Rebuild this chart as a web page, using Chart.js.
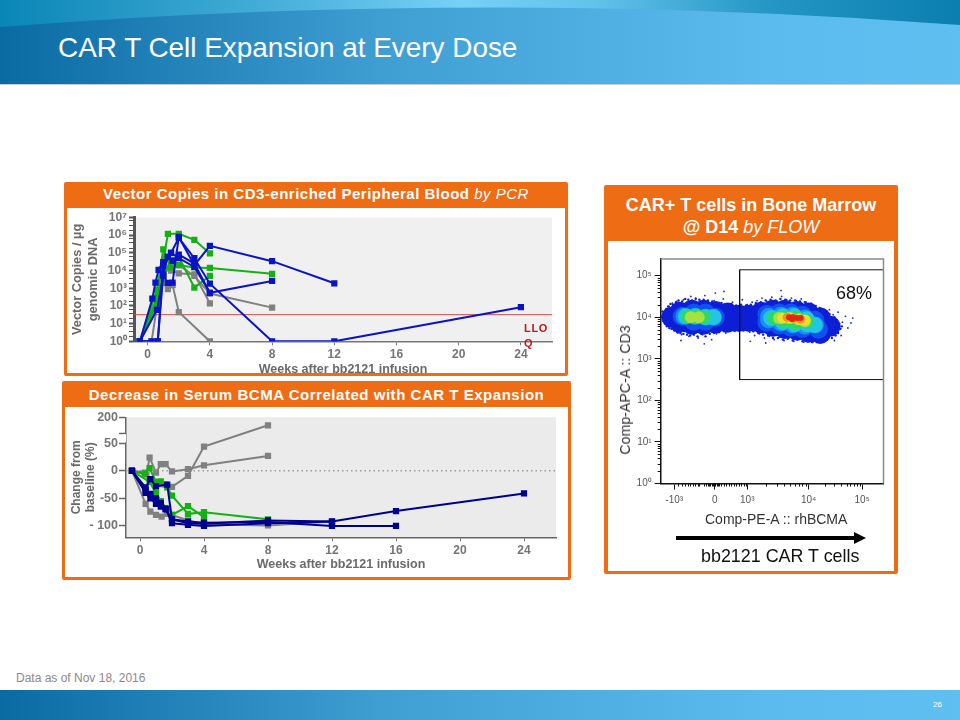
<!DOCTYPE html>
<html>
<head>
<meta charset="utf-8">
<title>CAR T Cell Expansion at Every Dose</title>
<script src="https://cdn.jsdelivr.net/npm/chart.js@4"></script>
<style>
html, body { margin: 0; padding: 0; background: #fff; }
body { position: relative; width: 960px; height: 720px; overflow: hidden; font-family: "Liberation Sans", Arial, sans-serif; }
.abs { position: absolute; }
canvas { position: absolute; }
.panel { position: absolute; background: #fff; border-style: solid; border-color: #ee6c14; border-radius: 2px; box-sizing: border-box; }
.head { position: absolute; color: #fff; font-weight: bold; text-align: center; white-space: nowrap; }
.head i { font-weight: normal; }
</style>
</head>
<body>
<svg class="abs" style="left:0;top:0" width="960" height="86">
  <defs>
    <linearGradient id="bar" x1="0" x2="1" y1="0" y2="0">
      <stop offset="0" stop-color="#0a6ba3"/><stop offset="0.4" stop-color="#3f9fd3"/><stop offset="0.8" stop-color="#5cbbee"/><stop offset="1" stop-color="#60bff1"/>
    </linearGradient>
    <linearGradient id="strip" x1="0" x2="1" y1="0" y2="0">
      <stop offset="0" stop-color="#0a86b6"/><stop offset="0.25" stop-color="#3ea9d4"/><stop offset="0.48" stop-color="#78d0f6"/><stop offset="0.62" stop-color="#62c2ea"/><stop offset="0.8" stop-color="#2596c5"/><stop offset="1" stop-color="#0a7fb0"/>
    </linearGradient>
  </defs>
  <rect width="960" height="30" fill="url(#strip)"/>
  <path d="M0,27 Q480,-11 960,25 L960,84 L0,84 Z" fill="url(#bar)"/>
  <rect y="84" width="960" height="1" fill="#c8ccd0"/>
</svg>
<div class="abs" style="left:58px;top:32px;font-size:27.9px;color:#fff;white-space:nowrap">CAR T Cell Expansion at Every Dose</div>

<div class="panel" style="left:64px;top:182px;width:504px;height:194px;border-width:26px 3px 3px 3px"></div>
<div class="head" style="left:64px;top:184px;width:504px;font-size:15px;line-height:20px;letter-spacing:0.5px">Vector Copies in CD3-enriched Peripheral Blood <i>by PCR</i></div>

<div class="panel" style="left:62px;top:381px;width:509px;height:199px;border-width:26px 3px 3px 3px"></div>
<div class="head" style="left:62px;top:385px;width:509px;font-size:15px;line-height:20px;letter-spacing:0.53px">Decrease in Serum BCMA Correlated with CAR T Expansion</div>

<div class="panel" style="left:604px;top:185px;width:294px;height:389px;border-width:56px 4px 3px 4px"></div>
<div class="head" style="left:604px;top:194px;width:294px;font-size:18px;line-height:22px">CAR+ T cells in Bone Marrow<br>@ D14 <i>by FLOW</i></div>

<canvas id="pcrChart" style="left:67px;top:207px" width="498" height="170"></canvas>
<canvas id="bcmaChart" style="left:66px;top:407px" width="502" height="170"></canvas>
<canvas id="flowChart" style="left:608px;top:241px" width="286" height="330"></canvas>

<div class="abs" style="left:524px;top:321px;width:26px;font-size:11px;line-height:15px;font-weight:bold;color:#c01818;letter-spacing:0.7px;word-break:break-all">LLOQ</div>
<div class="abs" style="left:836px;top:283px;font-size:18px;color:#111">68%</div>
<div class="abs" style="left:625px;top:390px;font-size:14.2px;color:#333;white-space:nowrap;transform:translate(-50%,-50%) rotate(-90deg)">Comp-APC-A :: CD3</div>
<div class="abs" style="left:705px;top:511px;font-size:14px;color:#333;white-space:nowrap">Comp-PE-A :: rhBCMA</div>
<svg class="abs" style="left:670px;top:528px" width="200" height="20">
  <rect x="6" y="8" width="180" height="4" fill="#000"/>
  <path d="M184,4 L196,10 L184,16 Z" fill="#000"/>
</svg>
<div class="abs" style="left:701px;top:546px;font-size:17.9px;color:#111;white-space:nowrap">bb2121 CAR T cells</div>

<div class="abs" style="left:16px;top:671px;font-size:12px;color:#8a8a8a">Data as of Nov 18, 2016</div>
<div class="abs" style="left:0;top:690px;width:960px;height:30px;background:linear-gradient(90deg,#0a6ba3 0%,#3f9fd3 40%,#5cbbee 80%,#60bff1 100%)"></div>
<div class="abs" style="left:933px;top:700px;font-size:8px;color:#fff">26</div>

<script>
///////////////////colours
const BLUE_PCR = '#0a14c4';
const BLUE_BCMA = '#00008e';
const GREEN = '#14b014';
const GREY = '#808080';

///////////////////PCR data - weeks and vector copies per ug
const pcrBlue1Weeks = [-0.5, 0.3, 0.5, 0.7, 1, 1.3, 1.5, 2, 3, 4, 8, 12, 24];
const pcrBlue1Copies = [1, 260, 2100, 11000, 30000, 60000, 100000, 700000, 50000, 1800, 1, 1, 85];
const pcrBlue2Weeks = [-0.5, 0.6, 1, 1.3, 1.6, 2, 3, 4, 8, 12];
const pcrBlue2Copies = [1, 60, 5000, 2000, 2100, 800000, 20000, 250000, 34000, 1900];
const pcrBlue3Weeks = [-0.5, 0.25, 0.65, 1, 1.3, 1.6, 2, 3, 4, 8];
const pcrBlue3Copies = [1, 1, 1, 6000, 60000, 35000, 80000, 25000, 550, 2600];
const pcrBlue4Weeks = [-0.5, 0.65, 1, 1.5, 2, 3, 4];
const pcrBlue4Copies = [1, 1, 20000, 100000, 50000, 16000, 550];

const pcrGreen1Weeks = [-0.5, 0.6, 1.3, 2, 3, 4];
const pcrGreen1Copies = [1, 300, 1200000, 1200000, 550000, 93000];
const pcrGreen2Weeks = [-0.5, 0.6, 1, 1.5, 2, 3, 4, 8];
const pcrGreen2Copies = [1, 800, 160000, 15000, 20000, 15000, 14000, 6500];
const pcrGreen3Weeks = [-0.5, 0.65, 1, 1.5, 2, 3, 4];
const pcrGreen3Copies = [1, 200, 5000, 40000, 60000, 1100, 5000];

const pcrGrey1Weeks = [-0.5, 0.25, 0.6, 1, 1.3, 1.6, 2, 4];
const pcrGrey1Copies = [1, 1, 100, 2000, 900, 1500, 45, 1];
const pcrGrey2Weeks = [-0.5, 0.65, 1, 1.5, 2, 3, 4];
const pcrGrey2Copies = [1, 100, 10000, 10000, 7000, 6000, 140];
const pcrGrey3Weeks = [-0.5, 0.65, 1, 1.5, 2, 3, 4, 8];
const pcrGrey3Copies = [1, 300, 5000, 30000, 20000, 5000, 500, 80];

const pcrLloq = 32;
const pcrWeekTicks = [0, 4, 8, 12, 16, 20, 24];
const pcrCopyTicks = [1, 10, 100, 1000, 10000, 100000, 1000000, 10000000];
const pcrCopyLabels = ['10⁰', '10¹', '10²', '10³', '10⁴', '10⁵', '10⁶', '10⁷'];

///////////////////BCMA data - weeks and change from baseline (%)
const bcmaBlue1Weeks = [-0.5, 0.35, 0.65, 1, 1.7, 2, 3, 4, 8, 12, 16, 24];
const bcmaBlue1Change = [0, -30, -15, -28, -25, -88, -95, -96, -90, -92, -73, -41];
const bcmaBlue2Weeks = [-0.5, 0.35, 0.65, 1, 1.3, 1.6, 2, 3, 4, 8, 12];
const bcmaBlue2Change = [0, -35, -42, -50, -58, -68, -95, -98, -100, -95, -92];
const bcmaBlue3Weeks = [-0.5, 0.35, 0.65, 1, 1.3, 1.6, 2, 3, 4, 8, 12, 16];
const bcmaBlue3Change = [0, -40, -50, -60, -65, -70, -88, -92, -94, -93, -100, -100];

const bcmaGreen1Weeks = [-0.5, 0.3, 0.6, 1, 1.3, 1.7, 2, 3, 4, 8];
const bcmaGreen1Change = [0, -5, 5, -20, -19, -30, -45, -78, -75, -88];
const bcmaGreen2Weeks = [-0.5, 0.6, 1, 1.3, 1.7, 2, 3, 4];
const bcmaGreen2Change = [0, -20, -40, -55, -70, -80, -64, -84];

const bcmaGrey1Weeks = [-0.5, 0.4, 0.6, 1, 1.3, 1.6, 2, 3, 4, 8];
const bcmaGrey1Change = [0, -7, 24, -3, 12, 12, -1, 3, 10, 27];
const bcmaGrey2Weeks = [-0.5, 0.3, 0.6, 1, 1.3, 1.6, 2, 3, 4, 8];
const bcmaGrey2Change = [0, -3, -15, -20, -24, -25, -29, -9, 44, 132];
const bcmaGrey3Weeks = [-0.5, 0.35, 0.65, 1, 1.35, 1.7, 2, 3, 4, 8, 12];
const bcmaGrey3Change = [0, -60, -74, -80, -83, -78, -80, -90, -97, -99, -92];

const bcmaWeekTicks = [0, 4, 8, 12, 16, 20, 24];
const bcmaChangeTicks = [-100, -50, 0, 50, 60, 200];
const bcmaChangeLabels = ['- 100', '-50', '0', '50', '', '200'];

///////////////////flow data - both axes are in decades of the display scale
const flowDeepBlue = [[1.77,4.00],[1.90,4.12],[1.90,3.88],[2.10,4.17],[2.10,3.83],[2.29,4.17],[2.29,3.83],[2.48,4.14],[2.48,3.86],[2.68,4.10],[2.68,3.88],[2.87,4.05],[2.87,3.90],[3.03,4.05],[3.03,3.90],[3.23,4.12],[3.23,3.86],[3.42,4.17],[3.42,3.78],[3.61,4.17],[3.61,3.73],[3.81,4.14],[3.81,3.69],[4.00,4.10],[4.00,3.64],[4.19,3.98],[4.19,3.61],[4.35,3.78]];
const flowMidBlue = [[1.94,4.02],[2.13,4.10],[2.13,3.90],[2.32,4.10],[2.32,3.90],[2.48,4.00],[3.32,4.07],[3.32,3.88],[3.52,4.10],[3.52,3.81],[3.71,4.10],[3.71,3.76],[3.90,4.05],[3.90,3.73],[4.10,3.93],[4.16,3.71]];
const flowAzure = [[1.97,4.02],[2.15,4.02],[2.32,4.00],[2.45,4.00],[3.35,4.02],[3.35,3.93],[3.55,4.05],[3.55,3.86],[3.74,4.05],[3.74,3.81],[3.94,3.98],[3.94,3.78],[4.11,3.81]];
const flowCyan = [[2.00,4.02],[2.16,4.02],[2.32,4.00],[2.45,4.00],[3.39,3.98],[3.58,4.02],[3.58,3.88],[3.77,4.02],[3.77,3.83],[3.97,3.95],[3.97,3.83],[4.10,3.81]];
const flowGreen = [[2.03,4.02],[2.18,4.02],[2.29,4.00],[3.44,3.98],[3.61,4.00],[3.61,3.90],[3.79,4.00],[3.79,3.86],[3.97,3.90]];
const flowLime = [[2.08,4.00],[2.21,4.00],[3.52,3.98],[3.68,3.98],[3.84,3.95],[3.94,3.90]];
const flowYellow = [[3.58,3.98],[3.71,3.98],[3.84,3.95],[3.94,3.93]];
const flowOrange = [[3.65,4.00],[3.76,3.98],[3.87,3.95]];
const flowRed = [[3.68,4.00],[3.74,4.00],[3.81,3.98],[3.73,3.95],[3.87,3.98]];
const flowSpecks = [
  [1.66,4.08],[1.68,3.96],[1.70,4.18],[1.71,3.84],[1.73,4.26],[1.74,3.90],[1.76,3.72],[1.78,4.34],[1.80,4.22],[1.82,3.68],
  [1.85,4.38],[1.87,3.62],[1.90,4.32],[1.93,3.58],[1.96,4.42],[1.98,3.66],[2.02,4.36],[2.05,3.54],[2.09,4.30],[2.12,3.60],
  [2.16,4.46],[2.20,3.50],[2.24,4.38],[2.27,3.58],[2.31,4.52],[2.35,3.64],[2.38,4.34],[2.42,3.46],[2.46,4.40],[2.50,3.60],
  [2.54,4.30],[2.57,3.68],[2.61,4.44],[2.65,3.62],[2.69,4.28],[2.72,3.72],[2.76,4.36],[2.80,3.66],[2.84,4.26],[2.88,3.74],
  [2.92,4.42],[2.96,3.70],[3.00,4.30],[3.04,3.64],[3.08,4.36],[3.12,3.56],[3.16,4.40],[3.20,3.60],[3.24,4.46],[3.28,3.50],
  [3.32,4.38],[3.36,3.54],[3.40,4.48],[3.44,3.46],[3.48,4.40],[3.52,3.52],[3.56,4.50],[3.60,3.44],[3.64,4.42],[3.68,3.50],
  [3.72,4.46],[3.76,3.42],[3.80,4.40],[3.84,3.48],[3.88,4.44],[3.92,3.40],[3.96,4.36],[4.00,3.46],[4.04,4.34],[4.08,3.42],
  [4.12,4.28],[4.16,3.46],[4.20,4.22],[4.24,3.40],[4.27,4.14],[4.30,3.50],[4.34,4.18],[4.36,3.58],[4.40,4.06],[4.42,3.44],
  [4.44,3.96],[4.46,3.66],[4.48,4.12],[4.50,3.78],[4.53,3.56],[4.55,3.88],[4.60,4.02],[4.64,3.74],[4.69,3.86],[2.62,4.62],
  [3.05,3.42],[1.92,3.44],[2.30,3.36],[3.55,4.64],[2.48,4.58],[3.30,3.38],[4.72,3.98],[2.08,4.50]
];
const flowEdgeSpecks = [
  [1.60,4.02],[1.62,4.14],[1.63,3.92],[1.65,4.06],[1.66,3.86],[1.68,4.20],[1.69,3.78],[1.71,4.26],[1.73,3.74],[1.75,4.32],
  [1.77,3.72],[1.79,4.30],[1.81,3.68],[1.84,4.36],[1.86,3.64],[1.88,4.40],[1.91,3.62],[1.94,4.38],[1.96,3.60],[1.99,4.44],
  [2.02,3.58],[2.04,4.42],[2.07,3.56],[2.10,4.40],[2.13,3.58],[2.16,4.44],[2.19,3.54],[2.22,4.42],[2.25,3.60],[2.29,4.42],
  [2.32,3.54],[2.36,4.40],[2.39,3.60],[2.43,4.38],[2.46,3.62],[2.50,4.34],[2.54,3.64],[2.58,4.34],[2.62,3.66],[2.66,4.30],
  [2.70,3.68],[2.74,4.32],[2.78,3.68],[2.82,4.28],[2.86,3.68],[2.90,4.30],[2.94,3.68],[2.98,4.28],[3.02,3.68],[3.06,4.30],
  [3.10,3.66],[3.14,4.34],[3.18,3.62],[3.22,4.36],[3.26,3.58],[3.30,4.40],[3.34,3.56],[3.38,4.42],[3.42,3.50],[3.46,4.40],
  [3.50,3.50],[3.54,4.44],[3.58,3.46],[3.62,4.42],[3.66,3.48],[3.70,4.40],[3.74,3.44],[3.78,4.40],[3.82,3.46],[3.86,4.38],
  [3.90,3.42],[3.94,4.36],[3.98,3.42],[4.02,4.30],[4.06,3.40],[4.10,4.26],[4.14,3.40],[4.18,4.22],[4.22,3.42],[4.26,4.12],
  [4.30,3.46],[4.34,4.08],[4.38,3.50],[4.42,4.00],[4.44,3.56],[4.46,3.92],[4.48,3.62],[4.50,3.84],[4.52,3.72],[4.54,3.78]
];
const flowGateLeft = 2.876;
const flowGateTop = 5.14;
const flowGateBottom = 2.5;
const flowXMin = 1.59;
const flowXMax = 5.22;
const flowYMax = 5.4;
const flowXTicks = [1.81, 2.47, 3, 4, 4.87];
const flowXLabels = ['-10³', '0', '10³', '10⁴', '10⁵'];
const flowXMinor = [1.88,1.93,1.98,2.03,2.07,2.11,2.15,2.19,2.22,2.30,2.33,2.36,2.38,2.40,2.42,2.44,2.46,2.48,2.50,2.52,2.54,2.58,2.62,2.66,2.70,2.74,2.78,2.82,2.86,2.90,2.94,2.98,3.30,3.48,3.60,3.70,3.78,3.85,3.90,3.95,4.26,4.42,4.52,4.62,4.68,4.74,4.79,4.84];
const flowYTicks = [0, 1, 2, 3, 4, 5];
const flowYLabels = ['10⁰', '10¹', '10²', '10³', '10⁴', '10⁵'];

///////////////////helpers
function lineSeries(weeks, values, color) {
    return {
        data: weeks.map((w, i) => ({ x: w, y: values[i] })),
        borderColor: color,
        backgroundColor: color,
        borderWidth: 2,
        pointStyle: 'rect',
        pointRadius: 3,
        tension: 0
    };
}

// the broken BCMA axis: everything above the break is squeezed
function bcmaToAxis(v) {
    return v <= 50 ? v : 68.1 + (v - 60) * 0.2036;
}

function cloud(points, color, radius) {
    return {
        type: 'scatter',
        data: points.map(p => ({ x: p[0], y: p[1] })),
        backgroundColor: color,
        borderWidth: 0,
        pointRadius: radius
    };
}

const axisFont = { family: 'Liberation Sans', size: 12, weight: 'bold' };
const weeksTitleFont = { family: 'Liberation Sans', size: 12.5, weight: 'bold' };
const plotBackground = {
    id: 'plotBackground',
    beforeDraw(chart, args, opts) {
        const a = chart.chartArea;
        chart.ctx.fillStyle = opts.color;
        chart.ctx.fillRect(a.left, a.top, a.right - a.left, a.bottom - a.top);
    }
};

///////////////////PCR chart
const pcrMinorTicks = {
    id: 'pcrMinorTicks',
    afterDraw(chart) {
        const y = chart.scales.y, ctx = chart.ctx, left = chart.chartArea.left;
        ctx.strokeStyle = '#555';
        ctx.lineWidth = 1;
        for (let d = 0; d < 7; d++) {
            [2, 4, 7].forEach(k => {
                const p = Math.round(y.getPixelForValue(k * Math.pow(10, d))) + 0.5;
                ctx.beginPath();
                ctx.moveTo(left - 5, p);
                ctx.lineTo(left - 1, p);
                ctx.stroke();
            });
        }
    }
};

new Chart(document.getElementById('pcrChart'), {
    type: 'line',
    plugins: [plotBackground, pcrMinorTicks],
    data: {
        datasets: [
            lineSeries(pcrBlue1Weeks, pcrBlue1Copies, BLUE_PCR),
            lineSeries(pcrBlue2Weeks, pcrBlue2Copies, BLUE_PCR),
            lineSeries(pcrBlue3Weeks, pcrBlue3Copies, BLUE_PCR),
            lineSeries(pcrBlue4Weeks, pcrBlue4Copies, BLUE_PCR),
            lineSeries(pcrGreen1Weeks, pcrGreen1Copies, GREEN),
            lineSeries(pcrGreen2Weeks, pcrGreen2Copies, GREEN),
            lineSeries(pcrGreen3Weeks, pcrGreen3Copies, GREEN),
            lineSeries(pcrGrey1Weeks, pcrGrey1Copies, GREY),
            lineSeries(pcrGrey2Weeks, pcrGrey2Copies, GREY),
            lineSeries(pcrGrey3Weeks, pcrGrey3Copies, GREY),
            {
                data: [{ x: -0.88, y: pcrLloq }, { x: 26, y: pcrLloq }],
                borderColor: '#cc4a4a',
                borderWidth: 1,
                pointRadius: 0
            }
        ]
    },
    options: {
        responsive: false,
        animation: false,
        layout: { padding: { top: 10.5, right: 13 } },
        plugins: { legend: { display: false }, tooltip: { enabled: false }, plotBackground: { color: '#f0f0f0' } },
        scales: {
            x: {
                type: 'linear',
                min: -0.88,
                max: 26,
                afterBuildTicks: s => { s.ticks = pcrWeekTicks.map(v => ({ value: v })); },
                afterFit: s => { s.height = 35.7; },
                grid: { drawOnChartArea: false, tickLength: 4, tickColor: '#777' },
                border: { color: '#777', width: 1.5 },
                ticks: { color: '#757575', font: axisFont, padding: 2, maxRotation: 0 },
                title: { display: true, text: 'Weeks after bb2121 infusion', color: '#6a6a6a', font: weeksTitleFont, padding: { top: 0, bottom: 0 } }
            },
            y: {
                type: 'logarithmic',
                min: 1,
                max: 10000000,
                afterBuildTicks: s => { s.ticks = pcrCopyTicks.map(v => ({ value: v })); },
                afterFit: s => { s.width = 67; },
                grid: { drawOnChartArea: false, tickLength: 5, tickColor: '#555', tickWidth: 2 },
                border: { color: '#555', width: 3 },
                ticks: { color: '#757575', font: axisFont, padding: 2, callback: (v, i) => pcrCopyLabels[i] },
                title: { display: true, text: ['Vector Copies / µg', 'genomic DNA'], color: '#6a6a6a', font: { family: 'Liberation Sans', size: 12.8, weight: 'bold' }, padding: { top: 3, bottom: 0 } }
            }
        }
    }
});

///////////////////BCMA chart
const bcmaAxisBreak = {
    id: 'bcmaAxisBreak',
    afterDraw(chart) {
        const y = chart.scales.y, ctx = chart.ctx, left = chart.chartArea.left;
        const top = y.getPixelForValue(bcmaToAxis(60)), bottom = y.getPixelForValue(50);
        ctx.fillStyle = '#fff';
        ctx.fillRect(left - 3, top + 1, 3, bottom - top - 2);
    }
};

new Chart(document.getElementById('bcmaChart'), {
    type: 'line',
    plugins: [plotBackground, bcmaAxisBreak],
    data: {
        datasets: [
            lineSeries(bcmaBlue1Weeks, bcmaBlue1Change.map(bcmaToAxis), BLUE_BCMA),
            lineSeries(bcmaBlue2Weeks, bcmaBlue2Change.map(bcmaToAxis), BLUE_BCMA),
            lineSeries(bcmaBlue3Weeks, bcmaBlue3Change.map(bcmaToAxis), BLUE_BCMA),
            lineSeries(bcmaGreen1Weeks, bcmaGreen1Change.map(bcmaToAxis), GREEN),
            lineSeries(bcmaGreen2Weeks, bcmaGreen2Change.map(bcmaToAxis), GREEN),
            lineSeries(bcmaGrey1Weeks, bcmaGrey1Change.map(bcmaToAxis), GREY),
            lineSeries(bcmaGrey2Weeks, bcmaGrey2Change.map(bcmaToAxis), GREY),
            lineSeries(bcmaGrey3Weeks, bcmaGrey3Change.map(bcmaToAxis), GREY),
            {
                data: [{ x: -0.875, y: 0 }, { x: 26, y: 0 }],
                borderColor: '#9a9a9a',
                borderWidth: 1.5,
                borderDash: [1.5, 3],
                pointRadius: 0
            }
        ]
    },
    options: {
        responsive: false,
        animation: false,
        layout: { padding: { top: 10.3, right: 12 } },
        plugins: { legend: { display: false }, tooltip: { enabled: false }, plotBackground: { color: '#ebebeb' } },
        scales: {
            x: {
                type: 'linear',
                min: -0.875,
                max: 26,
                afterBuildTicks: s => { s.ticks = bcmaWeekTicks.map(v => ({ value: v })); },
                afterFit: s => { s.height = 39.7; },
                grid: { drawOnChartArea: false, tickLength: 4, tickColor: '#777' },
                border: { color: '#666', width: 1.5 },
                ticks: { color: '#757575', font: axisFont, padding: 2, maxRotation: 0 },
                title: { display: true, text: 'Weeks after bb2121 infusion', color: '#6a6a6a', font: weeksTitleFont, padding: { top: 0, bottom: 5 } }
            },
            y: {
                type: 'linear',
                min: -120.6,
                max: 97.2,
                afterBuildTicks: s => { s.ticks = bcmaChangeTicks.map(v => ({ value: bcmaToAxis(v) })); },
                afterFit: s => { s.width = 60; },
                grid: { drawOnChartArea: false, tickLength: 7, tickColor: '#666', tickWidth: 1.5 },
                border: { color: '#666', width: 1.5 },
                ticks: { color: '#757575', font: { family: 'Liberation Sans', size: 12.5, weight: 'bold' }, padding: 1, callback: (v, i) => bcmaChangeLabels[i] },
                title: { display: true, text: ['Change from', 'baseline (%)'], color: '#6a6a6a', font: axisFont, padding: { top: 3, bottom: 0 } }
            }
        }
    }
});

///////////////////flow plot
const flowFrame = {
    id: 'flowFrame',
    afterDraw(chart) {
        const a = chart.chartArea, ctx = chart.ctx, x = chart.scales.x, y = chart.scales.y;
        ctx.strokeStyle = '#8a8a8a';
        ctx.lineWidth = 1.5;
        ctx.beginPath();
        ctx.moveTo(a.left, a.top);
        ctx.lineTo(a.right, a.top);
        ctx.lineTo(a.right, a.bottom);
        ctx.stroke();
        ctx.strokeStyle = '#111';
        ctx.lineWidth = 1;
        flowXMinor.forEach(v => {
            const p = Math.round(x.getPixelForValue(v)) + 0.5;
            ctx.beginPath();
            ctx.moveTo(p, a.bottom);
            ctx.lineTo(p, a.bottom + 3);
            ctx.stroke();
        });
        for (let d = 0; d < 5; d++) {
            for (let k = 2; k < 10; k++) {
                const p = Math.round(y.getPixelForValue(d + Math.log10(k))) + 0.5;
                ctx.beginPath();
                ctx.moveTo(a.left - 3, p);
                ctx.lineTo(a.left, p);
                ctx.stroke();
            }
        }
    }
};

new Chart(document.getElementById('flowChart'), {
    type: 'scatter',
    plugins: [flowFrame],
    data: {
        datasets: [
            {
                type: 'line',
                data: [{ x: flowXMax, y: flowGateTop }, { x: flowGateLeft, y: flowGateTop }, { x: flowGateLeft, y: flowGateBottom }, { x: flowXMax, y: flowGateBottom }],
                borderColor: '#111',
                borderWidth: 1,
                pointRadius: 0
            },
            cloud(flowRed, '#e02a10', 3),
            cloud(flowOrange, '#f29420', 4.5),
            cloud(flowYellow, '#e8e22e', 5.5),
            cloud(flowLime, '#a6e23e', 6),
            cloud(flowGreen, '#2cd86c', 7),
            cloud(flowCyan, '#22c6e4', 8),
            cloud(flowAzure, '#1a90f0', 8.5),
            cloud(flowMidBlue, '#1050f0', 9.5),
            cloud(flowDeepBlue, '#0c1ed6', 10.5),
            cloud(flowEdgeSpecks, '#0c1ed6', 1.2),
            cloud(flowSpecks, '#1428d8', 0.9)
        ]
    },
    options: {
        responsive: false,
        animation: false,
        layout: { padding: { top: 18, right: 8.3 } },
        plugins: { legend: { display: false }, tooltip: { enabled: false } },
        scales: {
            x: {
                type: 'linear',
                min: flowXMin,
                max: flowXMax,
                afterBuildTicks: s => { s.ticks = flowXTicks.map(v => ({ value: v })); },
                afterFit: s => { s.height = 87.5; },
                grid: { drawOnChartArea: false, tickLength: 6, tickColor: '#111' },
                border: { color: '#111', width: 1.5 },
                ticks: { color: '#555', font: { family: 'Liberation Sans', size: 10 }, padding: 5, maxRotation: 0, callback: (v, i) => flowXLabels[i] }
            },
            y: {
                type: 'linear',
                min: 0,
                max: flowYMax,
                afterBuildTicks: s => { s.ticks = flowYTicks.map(v => ({ value: v })); },
                afterFit: s => { s.width = 52.7; },
                grid: { drawOnChartArea: false, tickLength: 6, tickColor: '#111' },
                border: { color: '#111', width: 1.5 },
                ticks: { color: '#555', font: { family: 'Liberation Sans', size: 10 }, padding: 3, callback: (v, i) => flowYLabels[i] }
            }
        }
    }
});
</script>
</body>
</html>
